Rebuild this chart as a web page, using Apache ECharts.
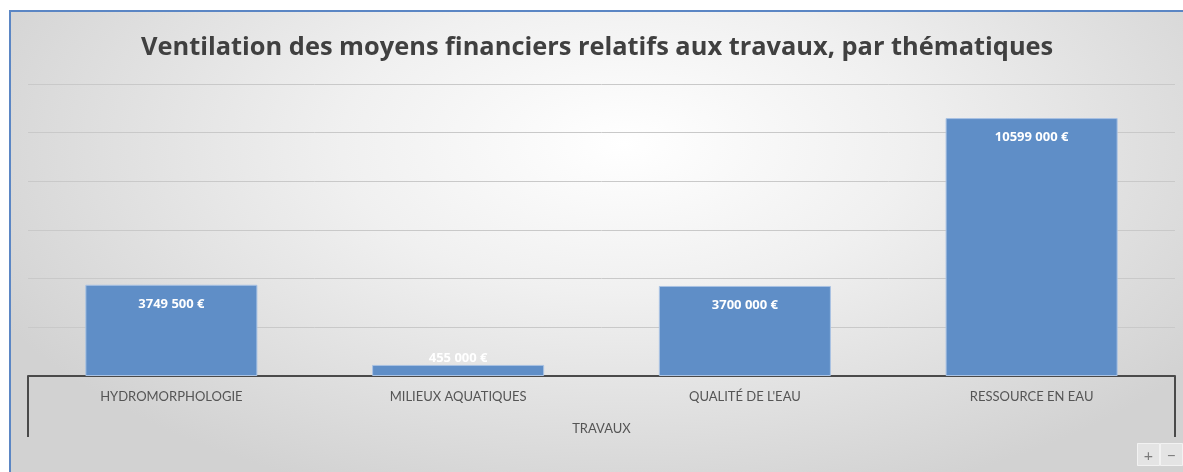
<!DOCTYPE html>
<html lang="fr">
<head>
<meta charset="utf-8">
<title>Ventilation des moyens financiers</title>
<script src="https://cdn.jsdelivr.net/npm/echarts@6/dist/echarts.min.js"></script>
<style>
  html, body { margin: 0; padding: 0; background: #ffffff; overflow: hidden; }
  #frame {
    position: absolute; left: 9px; top: 10px; width: 1180px; height: 470px;
    border-left: 2px solid #5b86c4; border-top: 2px solid #5b86c4;
    background: radial-gradient(ellipse 60% 80% at 52% 28%, #ffffff 0%, #f0f0f0 40%, #d2d2d2 100%);
  }
  #chart { position: absolute; left: 0; top: 0; width: 1183px; height: 472px; }
</style>
</head>
<body>
<div id="frame"></div>
<div id="chart"></div>
<script>
// Thématiques de travaux et montants alloués (en euros)
const categories = ['HYDROMORPHOLOGIE', 'MILIEUX AQUATIQUES', "QUALITÉ DE L'EAU", 'RESSOURCE EN EAU'];
const montants = [3749500, 455000, 3700000, 10599000];
const groupe = ['TRAVAUX'];
const titre = 'Ventilation des moyens financiers relatifs aux travaux, par thématiques';

// "3749 500 €" : milliers séparés une seule fois, comme dans le tableau source
function euros(v) {
  const mille = Math.floor(v / 1000);
  const reste = String(v % 1000).padStart(3, '0');
  return mille + ' ' + reste + ' €';
}

const font = 'Lato, "Open Sans", sans-serif';
const fontTitre = '"Open Sans", Lato, sans-serif';
const chart = echarts.init(document.getElementById('chart'));

chart.setOption({
  backgroundColor: 'transparent',
  animation: false,
  title: {
    text: titre,
    left: 136,
    top: 30,
    textStyle: { fontFamily: fontTitre, fontSize: 25.4, fontWeight: 'bold', color: '#404040' }
  },
  grid: { left: 28, right: 8, top: 84, bottom: 96, containLabel: false },
  xAxis: [
    {
      type: 'category',
      data: categories,
      axisLine: { show: true, lineStyle: { color: '#4a4a4a', width: 2 } },
      axisTick: { show: false },
      axisLabel: { margin: 14, color: '#555555', fontFamily: font, fontSize: 13 }
    },
    {
      type: 'category',
      data: groupe,
      position: 'bottom',
      axisLine: { show: false },
      axisTick: { show: true, alignWithLabel: false, length: 61, lineStyle: { color: '#4a4a4a', width: 2 } },
      axisLabel: { margin: 46, color: '#555555', fontFamily: font, fontSize: 13 }
    }
  ],
  yAxis: {
    type: 'value',
    min: 0,
    max: 12000000,
    interval: 2000000,
    axisLine: { show: false },
    axisTick: { show: false },
    axisLabel: { show: false },
    splitLine: { lineStyle: { color: '#c9c9c9', width: 1 } }
  },
  series: [{
    type: 'bar',
    xAxisIndex: 0,
    barWidth: '60%',
    data: montants.map(v => ({
      value: v,
      label: v < 1000000 ? { position: 'top', distance: 0 } : undefined
    })),
    itemStyle: { color: '#5f8ec7', borderColor: '#a9c2e3', borderWidth: 1 },
    label: {
      show: true,
      position: 'insideTop',
      distance: 13,
      color: '#ffffff',
      fontFamily: fontTitre,
      fontWeight: 'bold',
      fontSize: 13,
      formatter: p => euros(p.value)
    }
  }],
  graphic: [
    {
      type: 'group', right: 0, bottom: 6,
      children: [
        { type: 'rect', shape: { x: 0, y: 0, width: 22, height: 22 }, style: { fill: '#e4e4e4', stroke: '#f2f2f2' } },
        { type: 'text', x: 11, y: 12, style: { text: '+', fill: '#7a7a7a', font: '16px ' + font, align: 'center', verticalAlign: 'middle' } },
        { type: 'rect', shape: { x: 23, y: 0, width: 22, height: 22 }, style: { fill: '#e4e4e4', stroke: '#f2f2f2' } },
        { type: 'text', x: 34, y: 12, style: { text: '−', fill: '#7a7a7a', font: '16px ' + font, align: 'center', verticalAlign: 'middle' } }
      ]
    }
  ]
});
</script>
</body>
</html>
